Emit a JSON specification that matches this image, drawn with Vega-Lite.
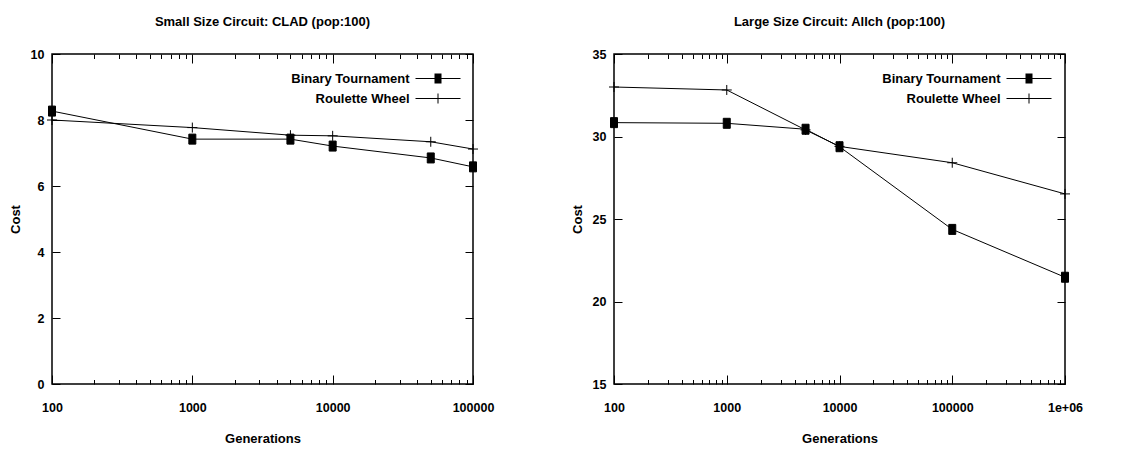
{
  "$schema": "https://vega.github.io/schema/vega-lite/v6.json",
  "background": "white",
  "padding": {"left": 8, "top": 15, "right": 5, "bottom": 5},
  "datasets": {
    "small": [
      {"series": "Binary Tournament", "gen": 100, "cost": 8.27},
      {"series": "Binary Tournament", "gen": 1000, "cost": 7.42},
      {"series": "Binary Tournament", "gen": 5000, "cost": 7.42},
      {"series": "Binary Tournament", "gen": 10000, "cost": 7.21},
      {"series": "Binary Tournament", "gen": 50000, "cost": 6.85},
      {"series": "Binary Tournament", "gen": 100000, "cost": 6.58},
      {"series": "Roulette Wheel", "gen": 100, "cost": 8.0},
      {"series": "Roulette Wheel", "gen": 1000, "cost": 7.77},
      {"series": "Roulette Wheel", "gen": 5000, "cost": 7.54},
      {"series": "Roulette Wheel", "gen": 10000, "cost": 7.52},
      {"series": "Roulette Wheel", "gen": 50000, "cost": 7.34},
      {"series": "Roulette Wheel", "gen": 100000, "cost": 7.12}
    ],
    "large": [
      {"series": "Binary Tournament", "gen": 100, "cost": 30.84},
      {"series": "Binary Tournament", "gen": 1000, "cost": 30.8},
      {"series": "Binary Tournament", "gen": 5000, "cost": 30.44},
      {"series": "Binary Tournament", "gen": 10000, "cost": 29.38},
      {"series": "Binary Tournament", "gen": 100000, "cost": 24.37},
      {"series": "Binary Tournament", "gen": 1000000, "cost": 21.47},
      {"series": "Roulette Wheel", "gen": 100, "cost": 33.0},
      {"series": "Roulette Wheel", "gen": 1000, "cost": 32.82},
      {"series": "Roulette Wheel", "gen": 5000, "cost": 30.4},
      {"series": "Roulette Wheel", "gen": 10000, "cost": 29.4},
      {"series": "Roulette Wheel", "gen": 100000, "cost": 28.41},
      {"series": "Roulette Wheel", "gen": 1000000, "cost": 26.52}
    ]
  },
  "config": {
    "font": "Liberation Sans",
    "view": {"stroke": "black", "strokeWidth": 1.5},
    "axis": {
      "domain": false, "grid": false,
      "labelFont": "Liberation Sans", "labelFontWeight": "bold", "labelFontSize": 12.5, "labelColor": "black",
      "labelFlush": false, "labelOverlap": false,
      "tickColor": "black", "tickWidth": 1,
      "titleFont": "Liberation Sans", "titleFontWeight": "bold", "titleFontSize": 13, "titleColor": "black"
    },
    "title": {"font": "Liberation Sans", "fontSize": 13, "fontWeight": "bold", "color": "black", "frame": "group", "offset": 19},
    "legend": {
      "title": null,
      "labelFont": "Liberation Sans", "labelFontWeight": "bold", "labelFontSize": 13, "labelColor": "black",
      "labelAlign": "right", "labelOffset": -35,
      "rowPadding": 5, "symbolSize": 100, "symbolOpacity": 1, "symbolStrokeWidth": 1,
      "symbolFillColor": "black", "symbolStrokeColor": "black",
      "labelLimit": 300
    }
  },
  "spacing": 75,
  "resolve": {"scale": {"shape": "independent"}, "legend": {"shape": "independent"}},
  "hconcat": [
    {
      "width": 421, "height": 330,
      "title": "Small Size Circuit: CLAD (pop:100)",
      "data": {"name": "small"},
      "resolve": {"scale": {"shape": "independent"}},
      "layer": [
        {
          "mark": {"type": "line", "color": "black", "strokeWidth": 1},
          "encoding": {
            "x": {"field": "gen", "type": "quantitative",
              "scale": {"type": "log", "domain": [100, 100000]},
              "axis": {"orient": "bottom", "title": "Generations", "titlePadding": 14,
                "values": [100,200,300,400,500,600,700,800,900,1000,2000,3000,4000,5000,6000,7000,8000,9000,10000,20000,30000,40000,50000,60000,70000,80000,90000,100000],
                "labelExpr": "indexof([100,1000,10000,100000], datum.value) >= 0 ? format(datum.value, 'd') : ''",
                "tickSize": {"condition": {"test": "indexof([100,1000,10000,100000], datum.value) >= 0", "value": -9}, "value": -4.5},
                "labelPadding": 26}},
            "y": {"field": "cost", "type": "quantitative",
              "scale": {"domain": [0, 10]},
              "axis": {"orient": "left", "title": "Cost", "values": [0,2,4,6,8,10], "tickSize": -8, "labelPadding": 16, "titlePadding": 8}},
            "detail": {"field": "series"}
          }
        },
        {
          "mark": {"type": "point", "filled": true, "fill": "black", "stroke": "black", "strokeWidth": 1, "size": 100, "opacity": 1},
          "encoding": {
            "x": {"field": "gen", "type": "quantitative",
              "scale": {"type": "log", "domain": [100, 100000]},
              "axis": {"orient": "top", "title": null, "labels": false,
                "values": [100,200,300,400,500,600,700,800,900,1000,2000,3000,4000,5000,6000,7000,8000,9000,10000,20000,30000,40000,50000,60000,70000,80000,90000,100000],
                "tickSize": {"condition": {"test": "indexof([100,1000,10000,100000], datum.value) >= 0", "value": -9}, "value": -4.5}}},
            "y": {"field": "cost", "type": "quantitative",
              "scale": {"domain": [0, 10]},
              "axis": {"orient": "right", "title": null, "labels": false, "values": [0,2,4,6,8,10], "tickSize": -8}},
            "shape": {"field": "series", "type": "nominal",
              "scale": {"domain": ["Binary Tournament", "Roulette Wheel"], "range": ["M-0.7,-1H0.7V1H-0.7Z", "M-1,0H1M0,-1V1"]},
              "legend": null}
          }
        },
        {
          "mark": {"type": "point", "filled": true, "fill": "black", "size": 100, "opacity": 0, "clip": true},
          "encoding": {
            "x": {"field": "gen", "type": "quantitative", "scale": {"type": "log", "domain": [100, 100000]}, "axis": null},
            "y": {"field": "cost", "type": "quantitative", "scale": {"domain": [0, 10]}, "axis": null},
            "shape": {"field": "series", "type": "nominal",
              "scale": {"domain": ["Binary Tournament", "Roulette Wheel"], "range": ["M-4.5,-0.1H4.5V0.1H-4.5ZM-0.7,-1H0.7V1H-0.7Z", "M-4.5,-0.1H4.5V0.1H-4.5ZM-0.1,-1H0.1V1H-0.1Z"]},
              "legend": {"orient": "none", "legendX": 379.5, "legendY": 18}}
          }
        }
      ]
    },
    {
      "width": 451, "height": 330,
      "title": "Large Size Circuit: Allch (pop:100)",
      "data": {"name": "large"},
      "resolve": {"scale": {"shape": "independent"}},
      "layer": [
        {
          "mark": {"type": "line", "color": "black", "strokeWidth": 1},
          "encoding": {
            "x": {"field": "gen", "type": "quantitative",
              "scale": {"type": "log", "domain": [100, 1000000]},
              "axis": {"orient": "bottom", "title": "Generations", "titlePadding": 14,
                "values": [100,200,300,400,500,600,700,800,900,1000,2000,3000,4000,5000,6000,7000,8000,9000,10000,20000,30000,40000,50000,60000,70000,80000,90000,100000,200000,300000,400000,500000,600000,700000,800000,900000,1000000],
                "labelExpr": "datum.value == 1000000 ? '1e+06' : (indexof([100,1000,10000,100000], datum.value) >= 0 ? format(datum.value, 'd') : '')",
                "tickSize": {"condition": {"test": "indexof([100,1000,10000,100000,1000000], datum.value) >= 0", "value": -9}, "value": -4.5},
                "labelPadding": 26}},
            "y": {"field": "cost", "type": "quantitative",
              "scale": {"domain": [15, 35]},
              "axis": {"orient": "left", "title": "Cost", "values": [15,20,25,30,35], "tickSize": -8, "labelPadding": 16, "titlePadding": 8}},
            "detail": {"field": "series"}
          }
        },
        {
          "mark": {"type": "point", "filled": true, "fill": "black", "stroke": "black", "strokeWidth": 1, "size": 100, "opacity": 1},
          "encoding": {
            "x": {"field": "gen", "type": "quantitative",
              "scale": {"type": "log", "domain": [100, 1000000]},
              "axis": {"orient": "top", "title": null, "labels": false,
                "values": [100,200,300,400,500,600,700,800,900,1000,2000,3000,4000,5000,6000,7000,8000,9000,10000,20000,30000,40000,50000,60000,70000,80000,90000,100000,200000,300000,400000,500000,600000,700000,800000,900000,1000000],
                "tickSize": {"condition": {"test": "indexof([100,1000,10000,100000,1000000], datum.value) >= 0", "value": -9}, "value": -4.5}}},
            "y": {"field": "cost", "type": "quantitative",
              "scale": {"domain": [15, 35]},
              "axis": {"orient": "right", "title": null, "labels": false, "values": [15,20,25,30,35], "tickSize": -8}},
            "shape": {"field": "series", "type": "nominal",
              "scale": {"domain": ["Binary Tournament", "Roulette Wheel"], "range": ["M-0.7,-1H0.7V1H-0.7Z", "M-1,0H1M0,-1V1"]},
              "legend": null}
          }
        },
        {
          "mark": {"type": "point", "filled": true, "fill": "black", "size": 100, "opacity": 0, "clip": true},
          "encoding": {
            "x": {"field": "gen", "type": "quantitative", "scale": {"type": "log", "domain": [100, 1000000]}, "axis": null},
            "y": {"field": "cost", "type": "quantitative", "scale": {"domain": [15, 35]}, "axis": null},
            "shape": {"field": "series", "type": "nominal",
              "scale": {"domain": ["Binary Tournament", "Roulette Wheel"], "range": ["M-4.5,-0.1H4.5V0.1H-4.5ZM-0.7,-1H0.7V1H-0.7Z", "M-4.5,-0.1H4.5V0.1H-4.5ZM-0.1,-1H0.1V1H-0.1Z"]},
              "legend": {"orient": "none", "legendX": 408.5, "legendY": 18}}
          }
        }
      ]
    }
  ]
}
